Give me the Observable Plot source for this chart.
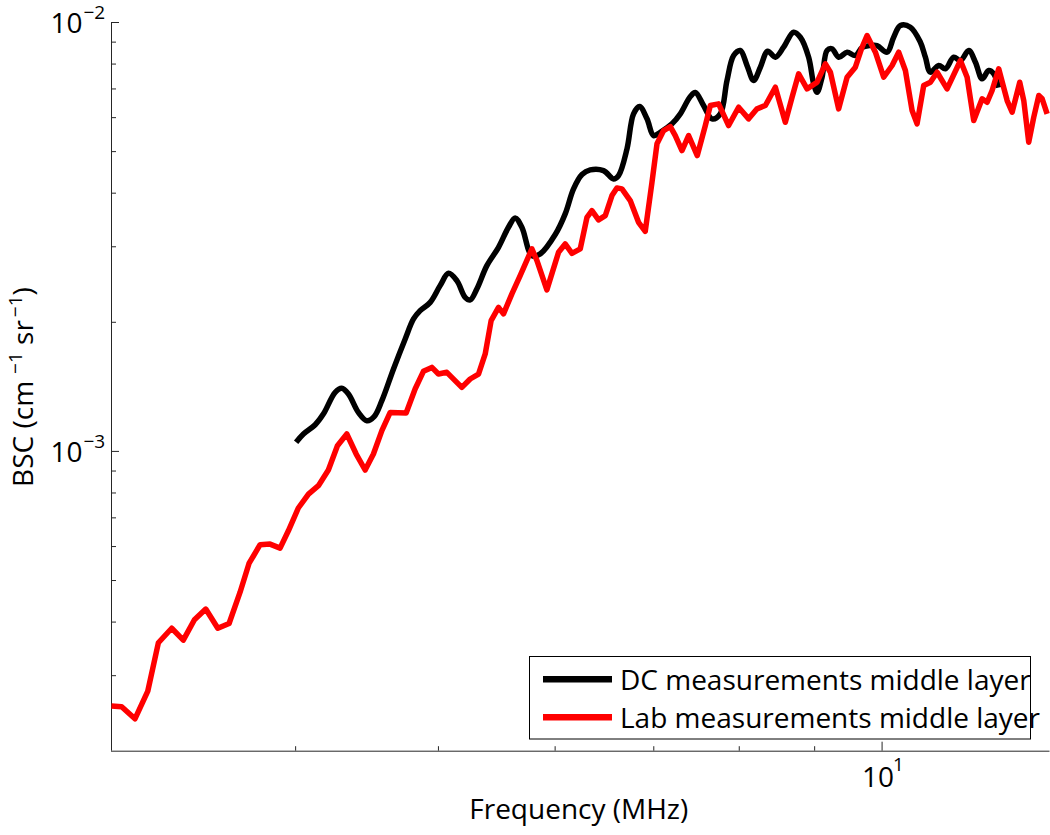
<!DOCTYPE html>
<html>
<head>
<meta charset="utf-8">
<script src="https://cdn.jsdelivr.net/npm/d3@7"></script>
<script src="https://cdn.jsdelivr.net/npm/@observablehq/plot@0.6"></script>
<style>
  html, body { margin: 0; padding: 0; background: #fff; }
  #chart { position: relative; width: 1050px; height: 835px; }
</style>
</head>
<body>
<div id="chart"></div>
<script>
// ---- Data ----
const seriesNames = ["DC measurements middle layer", "Lab measurements middle layer"];
const seriesColors = ["#000000", "#ff0000"];

// DC measurements (black)
const dcFreq = [
  4.003, 4.049, 4.124, 4.177, 4.255, 4.299, 4.344, 4.412, 4.471, 4.522,
  4.577, 4.661, 4.747, 4.809, 4.859, 4.936, 5.013, 5.079, 5.146, 5.213,
  5.254, 5.309, 5.393, 5.492, 5.578, 5.637, 5.696, 5.786, 5.862, 6.001,
  6.095, 6.175, 6.257, 6.338, 6.471, 6.573, 6.625, 6.713, 6.782, 6.846,
  6.926, 6.998, 7.071, 7.202, 7.296, 7.411, 7.469, 7.566, 7.666, 7.766,
  7.848, 7.930, 8.013, 8.098, 8.181, 8.268, 8.363, 8.464, 8.574, 8.709,
  8.801, 8.916, 8.986, 9.034, 9.105, 9.176, 9.248, 9.344, 9.468, 9.591,
  9.692, 9.819, 9.922, 10.078, 10.183, 10.290, 10.452, 10.617, 10.700, 10.784,
  10.925, 11.040, 11.184, 11.302, 11.450, 11.570, 11.692, 11.813, 11.906, 11.994
];
const dcBsc = [
  1.050e-3, 1.098e-3, 1.154e-3, 1.222e-3, 1.373e-3, 1.403e-3, 1.361e-3, 1.233e-3, 1.179e-3, 1.205e-3,
  1.313e-3, 1.557e-3, 1.829e-3, 2.036e-3, 2.129e-3, 2.226e-3, 2.435e-3, 2.601e-3, 2.501e-3, 2.287e-3,
  2.255e-3, 2.392e-3, 2.711e-3, 2.991e-3, 3.331e-3, 3.503e-3, 3.331e-3, 2.861e-3, 2.887e-3, 3.203e-3,
  3.579e-3, 4.093e-3, 4.420e-3, 4.533e-3, 4.516e-3, 4.319e-3, 4.397e-3, 5.075e-3, 6.124e-3, 6.369e-3,
  5.962e-3, 5.450e-3, 5.548e-3, 5.804e-3, 6.124e-3, 6.720e-3, 6.866e-3, 6.403e-3, 5.962e-3, 6.124e-3,
  7.323e-3, 8.376e-3, 8.604e-3, 7.938e-3, 7.323e-3, 7.866e-3, 8.571e-3, 8.300e-3, 8.757e-3, 9.492e-3,
  9.241e-3, 8.300e-3, 7.195e-3, 6.877e-3, 7.454e-3, 8.604e-3, 8.683e-3, 8.300e-3, 8.526e-3, 8.376e-3,
  8.743e-3, 8.838e-3, 8.838e-3, 8.526e-3, 9.241e-3, 9.840e-3, 9.751e-3, 8.996e-3, 8.300e-3, 7.657e-3,
  7.938e-3, 7.798e-3, 8.300e-3, 8.154e-3, 8.604e-3, 8.080e-3, 7.391e-3, 7.727e-3, 7.592e-3, 7.053e-3
];

// Lab measurements (red)
const labFreq = [
  3.000, 3.048, 3.112, 3.175, 3.228, 3.296, 3.356, 3.415, 3.476, 3.542,
  3.605, 3.667, 3.719, 3.784, 3.843, 3.904, 3.955, 4.017, 4.081, 4.145,
  4.210, 4.270, 4.333, 4.397, 4.459, 4.517, 4.577, 4.637, 4.754, 4.821,
  4.884, 4.949, 5.000, 5.066, 5.186, 5.254, 5.323, 5.379, 5.429, 5.492,
  5.535, 5.608, 5.681, 5.786, 5.832, 5.923, 6.032, 6.095, 6.160, 6.240,
  6.306, 6.355, 6.421, 6.489, 6.557, 6.608, 6.660, 6.747, 6.835, 6.907,
  6.980, 7.035, 7.108, 7.183, 7.239, 7.315, 7.391, 7.492, 7.587, 7.646,
  7.746, 7.868, 7.992, 8.118, 8.225, 8.333, 8.464, 8.597, 8.688, 8.778,
  8.894, 9.034, 9.152, 9.224, 9.344, 9.468, 9.591, 9.692, 9.768, 9.896,
  10.025, 10.158, 10.263, 10.371, 10.480, 10.562, 10.672, 10.784, 10.898, 11.069,
  11.302, 11.421, 11.540, 11.692, 11.784, 11.876, 11.999, 12.158, 12.253, 12.400,
  12.478, 12.575, 12.674, 12.774, 12.842, 12.942
];
const labBsc = [
  2.55e-4, 2.54e-4, 2.38e-4, 2.76e-4, 3.58e-4, 3.87e-4, 3.63e-4, 4.05e-4, 4.29e-4, 3.87e-4,
  3.97e-4, 4.69e-4, 5.48e-4, 6.06e-4, 6.08e-4, 5.95e-4, 6.53e-4, 7.38e-4, 7.95e-4, 8.32e-4,
  9.05e-4, 1.031e-3, 1.098e-3, 9.86e-4, 9.05e-4, 9.86e-4, 1.118e-3, 1.233e-3, 1.229e-3, 1.398e-3,
  1.537e-3, 1.570e-3, 1.515e-3, 1.529e-3, 1.410e-3, 1.475e-3, 1.515e-3, 1.687e-3, 2.018e-3, 2.167e-3,
  2.092e-3, 2.329e-3, 2.570e-3, 2.966e-3, 2.785e-3, 2.380e-3, 2.912e-3, 3.046e-3, 2.896e-3, 2.966e-3,
  3.514e-3, 3.643e-3, 3.466e-3, 3.547e-3, 3.949e-3, 4.115e-3, 4.093e-3, 3.844e-3, 3.421e-3, 3.260e-3,
  4.241e-3, 5.213e-3, 5.599e-3, 5.720e-3, 5.450e-3, 5.028e-3, 5.450e-3, 4.895e-3, 5.751e-3, 6.403e-3,
  6.462e-3, 5.751e-3, 6.345e-3, 5.962e-3, 6.291e-3, 6.403e-3, 7.065e-3, 5.854e-3, 6.695e-3, 7.592e-3,
  7.004e-3, 7.257e-3, 8.011e-3, 7.657e-3, 6.291e-3, 7.454e-3, 7.866e-3, 8.757e-3, 9.326e-3, 8.526e-3,
  7.454e-3, 7.938e-3, 8.526e-3, 7.727e-3, 6.234e-3, 5.804e-3, 7.129e-3, 7.257e-3, 7.657e-3, 7.004e-3,
  8.154e-3, 7.454e-3, 5.908e-3, 6.638e-3, 6.518e-3, 6.940e-3, 7.798e-3, 6.577e-3, 6.177e-3, 7.257e-3,
  6.577e-3, 5.258e-3, 6.013e-3, 6.757e-3, 6.638e-3, 6.124e-3
];

// Axis ticks
const xDomain = [3, 13];
const yDomain = [2e-4, 1e-2];
const xMinorTicks = [4, 5, 6, 7, 8, 9];
const xMajorTicks = [10];
const xTickExp = ["1"];
const yMinorTicks = [3e-4, 4e-4, 5e-4, 6e-4, 7e-4, 8e-4, 9e-4, 2e-3, 3e-3, 4e-3, 5e-3, 6e-3, 7e-3, 8e-3, 9e-3];
const yMajorTicks = [1e-3, 1e-2];
const yTickExp = ["\u22123", "\u22122"];
const xLabel = "Frequency (MHz)";
const yLabelParts = ["BSC (cm", "\u22121", " sr", "\u22121", ")"];

// ---- Build table ----
const dcRows = dcFreq.map((f, i) => ({f, v: dcBsc[i]}));
const labRows = labFreq.map((f, i) => ({f, v: labBsc[i]}));

const W = 1050, H = 835;
const mL = 111, mR = 0.5, mT = 22, mB = 84.3;
const FW = W - mL - mR, FH = H - mT - mB;
const axisColor = "#262626";
const font = "Open Sans";

const chart = Plot.plot({
  width: W, height: H,
  marginLeft: mL, marginRight: mR, marginTop: mT, marginBottom: mB,
  style: {fontFamily: font, background: "#fff", color: "#000", overflow: "visible"},
  x: {type: "log", domain: xDomain, axis: null},
  y: {type: "log", domain: yDomain, axis: null},
  marks: [
    // axis lines
    Plot.ruleX([xDomain[0]], {stroke: axisColor, strokeWidth: 1}),
    Plot.ruleY([yDomain[0]], {stroke: axisColor, strokeWidth: 1}),
    // inward ticks
    Plot.tickY(yMinorTicks, {y: d => d, insetRight: FW - 5, stroke: axisColor}),
    Plot.tickY(yMajorTicks, {y: d => d, insetRight: FW - 8, stroke: axisColor}),
    Plot.tickX(xMinorTicks, {x: d => d, insetTop: FH - 4.5, stroke: axisColor}),
    Plot.tickX(xMajorTicks, {x: d => d, insetTop: FH - 9, stroke: axisColor}),
    // tick labels
    Plot.text(yMajorTicks, {y: d => d, frameAnchor: "left", text: d => "10", textAnchor: "end", dx: -29, dy: 2, fontSize: 28, fill: "#000"}),
    Plot.text(yMajorTicks, {y: d => d, frameAnchor: "left", text: (d, i) => yTickExp[i], textAnchor: "start", dx: -28, dy: -10, fontSize: 19, fill: "#000"}),
    Plot.text(xMajorTicks, {x: d => d, frameAnchor: "bottom", text: d => "10", dx: -4, dy: 36, fontSize: 28, fill: "#000"}),
    Plot.text(xMajorTicks, {x: d => d, frameAnchor: "bottom", text: (d, i) => xTickExp[i], textAnchor: "start", dx: 11, dy: 20, fontSize: 19, fill: "#000"}),
    // x label
    Plot.text([xLabel], {frameAnchor: "bottom", dx: -2, dy: 68, fontSize: 28, fill: "#000"}),
    // data
    Plot.line(dcRows, {x: "f", y: "v", stroke: seriesColors[0], strokeWidth: 5.5, curve: "catmull-rom", strokeLinejoin: "round", strokeLinecap: "butt"}),
    Plot.line(labRows, {x: "f", y: "v", stroke: seriesColors[1], strokeWidth: 5.5, strokeLinejoin: "round", strokeLinecap: "butt"})
  ]
});

document.getElementById("chart").appendChild(chart);

// y-axis label with superscripts
const svg = d3.select(chart);
const yl = svg.append("text")
  .attr("transform", "translate(33,387) rotate(-90)")
  .attr("text-anchor", "middle")
  .attr("font-family", font)
  .attr("font-size", 28)
  .attr("fill", "#000");
yl.append("tspan").text(yLabelParts[0]);
yl.append("tspan").attr("font-size", 19).attr("dx", 7).attr("dy", -11).text(yLabelParts[1]);
yl.append("tspan").attr("dy", 11).text(yLabelParts[2]);
yl.append("tspan").attr("font-size", 19).attr("dx", 3).attr("dy", -11).text(yLabelParts[3]);
yl.append("tspan").attr("dy", 11).text(yLabelParts[4]);

// legend
const lg = svg.append("g").attr("font-family", font).attr("text-anchor", "start");
lg.append("rect").attr("x", 529.5).attr("y", 656.5).attr("width", 501).attr("height", 82.5)
  .attr("fill", "#fff").attr("stroke", "#000").attr("stroke-width", 1);
seriesNames.forEach((name, i) => {
  const cy = 679.3 + i * 38;
  lg.append("line").attr("x1", 543).attr("x2", 612).attr("y1", cy).attr("y2", cy)
    .attr("stroke", seriesColors[i]).attr("stroke-width", 6.5);
  lg.append("text").attr("x", 620).attr("y", cy + 10.5).attr("text-anchor", "start")
    .attr("font-size", 28).attr("fill", "#000").text(name);
});
</script>
</body>
</html>
